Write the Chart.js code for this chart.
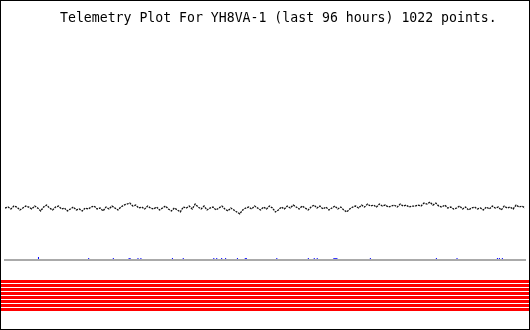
<!DOCTYPE html>
<html>
<head>
<meta charset="utf-8">
<script src="https://cdn.jsdelivr.net/npm/chart.js@4.4.1/dist/chart.umd.min.js"></script>
<style>
  html, body { margin: 0; padding: 0; background: #fff; }
  #frame { position: relative; width: 530px; height: 330px; box-sizing: border-box; border: 1px solid #000; background: #fff; overflow: hidden; }
  #telemetry { position: absolute; left: 0; top: 0; }
  #bits { position: absolute; left: 0; top: 261px; }
</style>
</head>
<body>
<div id="frame">
  <canvas id="telemetry" width="528" height="263"></canvas>
  <canvas id="bits" width="528" height="67"></canvas>
</div>
<script>
const station = "YH8VA-1";
const hours = 96;
const pointCount = 1022;

// analog channel, raw counts left to right
const analogValues = [
  53, 54, 52, 55, 54, 51, 53, 55, 54, 52,
  55, 53, 50, 54, 56, 53, 51, 54, 55, 52,
  53, 50, 52, 54, 51, 52, 50, 53, 52, 54,
  55, 52, 53, 50, 54, 52, 55, 53, 51, 54,
  56, 57, 58, 55, 56, 53, 54, 52, 55, 53,
  52, 54, 51, 53, 55, 52, 50, 53, 51, 49,
  54, 53, 55, 52, 57, 54, 52, 55, 51, 53,
  54, 51, 53, 55, 52, 50, 53, 51, 49, 47,
  51, 53, 54, 52, 55, 53, 51, 54, 52, 55,
  53, 49, 51, 54, 52, 55, 53, 56, 54, 52,
  55, 53, 51, 54, 56, 53, 55, 52, 54, 51,
  53, 55, 52, 54, 51, 49, 52, 54, 55, 53,
  56, 54, 57, 55, 56, 54, 57, 55, 56, 54,
  55, 56, 54, 57, 55, 56, 54, 55, 55, 56,
  55, 58, 57, 59, 56, 58, 55, 54, 56, 53,
  54, 52, 53, 55, 52, 54, 51, 53, 54, 52,
  53, 51, 54, 52, 55, 53, 54, 51, 55, 53,
  54, 52, 56, 54, 55, 53
];

// small blue event marks just above the axis (hour, level)
const eventHours = [6.18, 6.18, 15.45, 20.0, 22.91, 23.09, 24.55, 25.09, 30.91, 32.91,
  38.55, 39.09, 40.0, 40.73, 42.91, 44.36, 44.55, 50.18, 56.0, 57.09,
  57.64, 60.73, 60.91, 61.09, 61.27, 67.45, 79.64, 83.45, 90.91, 91.27, 91.82];
const eventLevels = [1.5, 2.5, 1.5, 1.5, 1.5, 1.5, 1.5, 1.5, 1.5, 1.5,
  1.5, 1.5, 1.5, 1.5, 1.5, 1.5, 1.5, 1.5, 1.5, 1.5,
  1.5, 1.5, 1.5, 1.5, 1.5, 1.5, 1.5, 1.5, 1.5, 1.5, 1.5];

// digital bits, all on for the whole window
const bitLabels = ["B1", "B2", "B3", "B4", "B5", "B6", "B7", "B8"];
const bitOnRanges = [[0, 96], [0, 96], [0, 96], [0, 96], [0, 96], [0, 96], [0, 96], [0, 96]];

const titleText = "Telemetry Plot For " + station + " (last " + hours + " hours) " + pointCount + " points.";

const titlePlugin = {
  id: "plotTitle",
  afterDraw(chart) {
    const ctx = chart.ctx;
    ctx.save();
    ctx.font = '13.2px "DejaVu Sans Mono", monospace';
    ctx.fillStyle = "#000";
    ctx.textBaseline = "alphabetic";
    ctx.fillText(titleText, 59, 21);
    ctx.restore();
  }
};

const analogPoints = analogValues.map((v, i) => ({ x: i * hours / (analogValues.length - 1), y: v }));
const eventPoints = eventHours.map((h, i) => ({ x: h, y: eventLevels[i] }));

new Chart(document.getElementById("telemetry"), {
  type: "scatter",
  data: {
    datasets: [
      {
        data: analogPoints,
        showLine: true,
        borderColor: "#111",
        borderWidth: 1.3,
        borderDash: [2, 1],
        pointRadius: 0,
      },
      {
        data: eventPoints,
        pointStyle: "rect",
        pointRadius: 0.71,
        pointBorderWidth: 0,
        pointBackgroundColor: "#0000ff",
        showLine: false,
      },
    ],
  },
  options: {
    responsive: false,
    animation: false,
    layout: { padding: { top: 0, left: 0, right: 0, bottom: 1 } },
    scales: {
      x: {
        type: "linear",
        min: 0,
        max: hours,
        grid: { display: false, drawTicks: false },
        ticks: { display: false },
        border: { display: true, color: "#aaa", width: 2 },
      },
      y: {
        display: false,
        min: 0,
        max: 260,
      },
    },
    plugins: {
      legend: { display: false },
      tooltip: { enabled: false },
      title: { display: false },
    },
  },
  plugins: [titlePlugin],
});

new Chart(document.getElementById("bits"), {
  type: "bar",
  data: {
    labels: bitLabels,
    datasets: [
      {
        data: bitOnRanges,
        backgroundColor: "#ff0000",
        borderWidth: 0,
        barPercentage: 0.75,
        categoryPercentage: 1,
      },
    ],
  },
  options: {
    indexAxis: "y",
    responsive: false,
    animation: false,
    layout: { padding: { top: 17.5, bottom: 17.5, left: 0, right: 0 } },
    scales: {
      x: { type: "linear", display: false, min: 0, max: hours },
      y: { display: false },
    },
    plugins: {
      legend: { display: false },
      tooltip: { enabled: false },
    },
  },
});
</script>
</body>
</html>
